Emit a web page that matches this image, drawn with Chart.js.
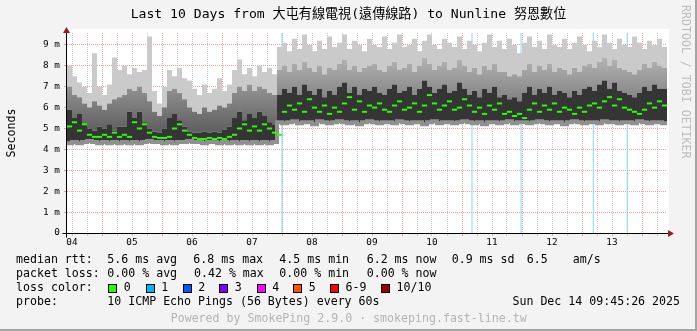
<!DOCTYPE html>
<html>
<head>
<meta charset="utf-8">
<title>SmokePing - Last 10 Days</title>
<script src="https://cdn.jsdelivr.net/npm/chart.js@4.4.1/dist/chart.umd.min.js"></script>
<style>
  body { margin: 0; background: #fff; }
  #wrap { position: relative; width: 697px; height: 331px; background: #f3f3f3; box-sizing: border-box;
          border-right: 2px solid #a4a4a4; border-bottom: 2px solid #a4a4a4; overflow: hidden; }
  #c { position: absolute; left: 0; top: 0; }
  .txt { position: absolute; font-family: "DejaVu Sans Mono", "Noto Sans CJK TC", monospace; font-size: 11.6px;
         line-height: 14px; white-space: pre; color: #000; }
  .box { position: absolute; width: 7px; height: 7px; border: 1px solid #000; }
</style>
</head>
<body>
<div id="wrap">
  <canvas id="c" width="697" height="331"></canvas>
  <div class="txt" style="left:0;width:697px;text-align:center;top:6px;font-size:13.1px;line-height:16px">Last 10 Days from 大屯有線電視(遠傳線路) to Nunline 努恩數位</div>
  <div class="txt" style="left:-39.5px;width:100px;text-align:center;top:125.5px;transform:rotate(-90deg)">Seconds</div>
  <div class="txt" style="left:610px;width:152px;text-align:left;top:74px;color:#bdbdbd;transform:rotate(90deg)">RRDTOOL / TOBI OETIKER</div>

  <div class="txt" style="left:16px;top:252.3px">median rtt:</div>
  <div class="txt" style="left:107.3px;top:252.3px">5.6 ms avg</div>
  <div class="txt" style="left:193.3px;top:252.3px">6.8 ms max</div>
  <div class="txt" style="left:279.3px;top:252.3px">4.5 ms min</div>
  <div class="txt" style="left:366.7px;top:252.3px">6.2 ms now</div>
  <div class="txt" style="left:451.7px;top:252.3px">0.9 ms sd</div>
  <div class="txt" style="left:526.7px;top:252.3px">6.5</div>
  <div class="txt" style="left:572.7px;top:252.3px">am/s</div>

  <div class="txt" style="left:16px;top:266.3px">packet loss:</div>
  <div class="txt" style="left:107.3px;top:266.3px">0.00 % avg</div>
  <div class="txt" style="left:194px;top:266.3px">0.42 % max</div>
  <div class="txt" style="left:279.3px;top:266.3px">0.00 % min</div>
  <div class="txt" style="left:366.7px;top:266.3px">0.00 % now</div>

  <div class="txt" style="left:16px;top:280px">loss color:</div>
  <div id="lossLegend"></div>

  <div class="txt" style="left:16px;top:294px">probe:</div>
  <div class="txt" style="left:107.3px;top:294px">10 ICMP Echo Pings (56 Bytes) every 60s</div>
  <div class="txt" style="right:15px;top:294px">Sun Dec 14 09:45:26 2025</div>

  <div class="txt" style="left:170.7px;top:310.7px;color:#b4b4b4">Powered by SmokePing 2.9.0 · smokeping.fast-line.tw</div>
</div>
<script>
// samples every 2 hours, hours counted from Dec 04 00:00
const startHour = 10;
const stepHours = 2;
const dayLabels = ['04', '05', '06', '07', '08', '09', '10', '11', '12', '13'];
const yTickLabels = ['0', '1 m', '2 m', '3 m', '4 m', '5 m', '6 m', '7 m', '8 m', '9 m'];

// median rtt (ms)
const median = [
  5.1, 5.3, 4.9, 5.2, 4.7, 4.6, 4.6, 4.7, 4.6, 4.8,
  4.6, 4.7, 4.6, 5.3, 5.0, 5.2, 4.8, 4.6, 4.55, 4.55,
  4.6, 5.0, 5.2, 4.9, 4.7, 4.55, 4.5, 4.5, 4.55, 4.5,
  4.55, 4.5, 4.6, 4.7, 5.0, 5.2, 4.9, 5.1, 4.9, 5.2,
  5.0, 4.8, 4.7,
  5.8, 6.1, 5.9, 6.2, 5.8, 6.4, 6.0, 5.8, 6.1, 5.7,
  6.0, 5.8, 6.2, 6.5, 5.9, 6.3, 5.8, 6.1, 6.0, 6.2,
  5.9, 5.8, 6.1, 6.3, 5.9, 6.0, 6.2, 5.8, 6.1, 6.6,
  6.2, 5.9, 6.1, 6.3, 5.9, 6.0, 6.4, 6.1, 5.8, 6.0,
  5.7, 6.1, 5.9, 6.2, 5.7, 5.8, 5.6, 5.7, 5.5, 5.9,
  6.2, 5.8, 6.1, 5.9, 6.2, 5.8, 6.0, 5.9, 5.7, 6.0,
  5.8, 6.1, 6.2, 6.0, 6.3, 6.5, 6.1, 6.4, 6.0, 5.9,
  5.8, 5.7, 5.9, 6.2, 6.0, 6.3, 6.1, 6.1
];

// smoke: lowest ping
const rttMin = [
  4.35, 4.3, 4.35, 4.3, 4.35, 4.4, 4.35, 4.3, 4.35, 4.3,
  4.35, 4.3, 4.35, 4.3, 4.35, 4.3, 4.35, 4.4, 4.35, 4.35,
  4.3, 4.35, 4.3, 4.35, 4.35, 4.4, 4.35, 4.35, 4.3, 4.35,
  4.35, 4.3, 4.35, 4.3, 4.35, 4.3, 4.35, 4.3, 4.35, 4.3,
  4.35, 4.3, 4.35,
  5.3, 5.25, 5.3, 5.35, 5.25, 5.3, 5.3, 5.2, 5.35, 5.3,
  5.25, 5.3, 5.35, 5.3, 5.25, 5.3, 5.2, 5.3, 5.35, 5.3,
  5.25, 5.3, 5.3, 5.25, 5.35, 5.3, 5.25, 5.3, 5.3, 5.2,
  5.3, 5.35, 5.25, 5.3, 5.3, 5.25, 5.3, 5.35, 5.3, 5.25,
  5.3, 5.2, 5.3, 5.3, 5.25, 5.3, 5.35, 5.25, 5.3, 5.3,
  5.25, 5.3, 5.35, 5.3, 5.25, 5.3, 5.3, 5.2, 5.3, 5.35,
  5.3, 5.25, 5.3, 5.3, 5.25, 5.35, 5.3, 5.3, 5.25, 5.3,
  5.3, 5.25, 5.35, 5.3, 5.25, 5.3, 5.3, 5.25
];

// smoke: top of the dark core
const rttCore = [
  5.7, 5.9, 5.5, 5.7, 5.2, 5.0, 4.9, 5.1, 5.0, 5.2,
  4.9, 5.1, 5.1, 5.8, 5.5, 5.8, 5.3, 5.0, 4.85, 4.8,
  5.0, 5.5, 5.7, 5.4, 5.1, 4.85, 4.8, 4.8, 4.85, 4.8,
  4.85, 4.8, 4.95, 5.1, 5.5, 5.8, 5.4, 5.7, 5.5, 5.8,
  5.6, 5.3, 5.2,
  6.6, 6.9, 6.7, 7.0, 6.6, 7.1, 6.8, 6.6, 6.9, 6.5,
  6.8, 6.6, 7.0, 7.2, 6.7, 7.0, 6.6, 6.9, 6.8, 7.0,
  6.7, 6.6, 6.9, 7.1, 6.7, 6.8, 7.0, 6.6, 6.9, 7.3,
  7.0, 6.7, 6.9, 7.1, 6.7, 6.8, 7.2, 6.9, 6.6, 6.8,
  6.5, 6.9, 6.7, 7.0, 6.5, 6.6, 6.4, 6.5, 6.3, 6.7,
  7.0, 6.6, 6.9, 6.7, 7.0, 6.6, 6.8, 6.7, 6.5, 6.8,
  6.6, 6.9, 7.0, 6.8, 7.1, 7.3, 6.9, 7.2, 6.8, 6.7,
  6.6, 6.5, 6.7, 7.0, 6.8, 7.1, 6.9, 6.9
];

// smoke: top of the mid grey
const rttMid = [
  6.8, 7.0, 6.6, 6.5, 6.2, 6.0, 6.3, 6.1, 5.9, 6.2,
  6.4, 6.5, 6.6, 6.9, 6.8, 7.0, 6.7, 6.3, 5.8, 5.6,
  6.0, 6.8, 6.9, 6.7, 6.4, 6.0, 5.8, 5.7, 6.0, 5.8,
  5.9, 6.1, 6.0, 6.2, 6.7, 7.0, 6.8, 7.1, 6.8, 7.0,
  6.9, 6.7, 6.6,
  7.8, 8.0, 7.7, 8.1, 7.8, 8.2, 7.9, 7.7, 8.0, 7.6,
  7.9, 7.8, 8.1, 8.3, 7.8, 8.0, 7.7, 7.9, 8.0, 8.1,
  7.8, 7.7, 8.0, 8.2, 7.8, 7.9, 8.1, 7.7, 8.0, 8.4,
  8.1, 7.8, 8.0, 8.2, 7.8, 7.9, 8.3, 8.0, 7.7, 7.9,
  7.6, 8.0, 7.8, 8.1, 7.7, 7.7, 7.5, 7.6, 7.5, 7.8,
  8.1, 7.7, 8.0, 7.8, 8.1, 7.7, 7.9, 7.8, 7.6, 7.9,
  7.7, 8.0, 8.1, 7.9, 8.2, 8.4, 8.0, 8.3, 7.9, 7.8,
  7.7, 7.6, 7.8, 8.1, 7.9, 8.2, 8.0, 7.9
];

// smoke: highest ping
const rttMax = [
  7.8, 8.0, 7.5, 7.2, 7.0, 6.7, 8.6, 7.0, 6.6, 7.1,
  8.4, 7.8, 8.0, 7.6, 7.9, 7.7, 7.8, 9.4, 6.8, 6.2,
  7.0, 7.8, 7.5, 7.9, 7.4, 7.3, 6.9, 6.6, 7.1, 6.7,
  6.9, 7.4, 6.8, 7.1, 7.8, 8.3, 7.6, 7.9, 7.5, 8.0,
  7.7, 7.9, 7.6,
  8.9, 9.1, 8.7, 9.3, 8.8, 9.5, 9.0, 8.7, 9.2, 8.8,
  9.4, 8.9, 9.1, 9.5, 8.8, 9.2, 9.0, 8.7, 9.3, 9.0,
  8.9, 9.4, 8.8, 9.1, 9.5, 8.9, 9.0, 9.3, 8.7, 9.2,
  9.5, 9.0, 8.8, 9.3, 9.1, 8.9, 9.4, 8.8, 9.2, 9.0,
  8.7, 9.1, 9.5, 8.9, 9.2, 8.8, 9.3, 9.0, 8.6, 9.1,
  9.4, 8.9, 9.2, 8.8, 9.5, 9.0, 8.9, 9.3, 8.8, 9.1,
  9.4, 9.0, 8.7, 9.2, 8.9, 9.5, 9.1, 8.8, 9.3, 9.0,
  8.9, 9.4, 9.1, 8.8, 9.2, 9.0, 9.3, 8.9
];

// hours with 1/10 packet loss
const lossTimes = [96.0, 172.0, 191.6, 220.5, 234.1];

const lossColors = ['#26ff00', '#00b8ff', '#0059ff', '#7e00ff', '#ff00ff', '#ff5500', '#ff0000', '#a10000'];
const lossNames = ['0', '1', '2', '3', '4', '5', '6-9', '10/10'];
const lossBoxX = [108.3, 145.7, 182.7, 219.3, 256.7, 293.3, 330, 381];

const legendEl = document.getElementById('lossLegend');
lossNames.forEach((name, i) => {
    const box = document.createElement('div');
    box.className = 'box';
    box.style.left = lossBoxX[i] + 'px';
    box.style.top = '283.5px';
    box.style.background = lossColors[i];
    legendEl.appendChild(box);
    const lbl = document.createElement('div');
    lbl.className = 'txt';
    lbl.style.left = (lossBoxX[i] + 15.5) + 'px';
    lbl.style.top = '280px';
    lbl.textContent = name;
    legendEl.appendChild(lbl);
});

const pts = arr => arr.map((v, i) => ({ x: startHour + i * stepHours, y: v }));
// median dash sits in the middle of its 2 hour slot
const midPts = arr => arr.map((v, i) => ({ x: startHour + (i + 0.5) * stepHours, y: v }));

const yMax = 9.57;
const lossPts = [];
lossTimes.forEach(t => {
    lossPts.push({ x: t, y: 0 }, { x: t, y: yMax }, { x: t, y: null });
});

const xTicks = [];
for (let h = 12; h <= 246; h += 6) xTicks.push(h);
const yTicks = [];
for (let v = 0; v <= 9.5; v += 0.5) yTicks.push(v);

const redGrid = 'rgba(214, 90, 90, 0.55)';
const greyGrid = 'rgba(150, 150, 150, 0.5)';
const tickFont = { family: 'DejaVu Sans Mono', size: 9.4 };

function midFill(context) {
    const chart = context.chart;
    if (!chart.chartArea) return '#8c8c8c';
    const y = chart.scales.y;
    const g = chart.ctx.createLinearGradient(0, y.getPixelForValue(5), 0, y.getPixelForValue(8.6));
    g.addColorStop(0, '#626262');
    g.addColorStop(1, '#b8b8b8');
    return g;
}

const axesPlugin = {
    id: 'axes',
    beforeDraw(chart) {
        const { ctx, chartArea: a } = chart;
        ctx.save();
        ctx.fillStyle = '#ffffff';
        ctx.fillRect(a.left, a.top - 4, a.right - a.left + 2, a.bottom - a.top + 4);
        ctx.restore();
    },
    afterDatasetsDraw(chart) {
        const { ctx, chartArea: a } = chart;
        const x0 = Math.round(a.left) - 0.5;
        const y0 = Math.round(a.bottom) + 0.5;
        ctx.save();
        ctx.strokeStyle = '#000';
        ctx.lineWidth = 1;
        ctx.beginPath();
        ctx.moveTo(x0 - 4, y0);
        ctx.lineTo(a.right + 3, y0);
        ctx.moveTo(x0, y0 + 4);
        ctx.lineTo(x0, a.top - 2);
        ctx.stroke();
        ctx.fillStyle = '#9b1c1c';
        ctx.beginPath();
        ctx.moveTo(a.right + 7, y0);
        ctx.lineTo(a.right + 1, y0 - 3.5);
        ctx.lineTo(a.right + 1, y0 + 3.5);
        ctx.closePath();
        ctx.fill();
        ctx.beginPath();
        ctx.moveTo(x0, a.top - 6);
        ctx.lineTo(x0 - 3.5, a.top);
        ctx.lineTo(x0 + 3.5, a.top);
        ctx.closePath();
        ctx.fill();
        ctx.restore();
    }
};

const noBorder = 'rgba(0,0,0,0)';
const band = (label, data, fill, color, order) => ({
    label: label, data: pts(data), fill: fill, backgroundColor: color,
    borderColor: noBorder, borderWidth: 0, stepped: 'after', pointRadius: 0, order: order
});

new Chart(document.getElementById('c'), {
    type: 'line',
    data: {
        datasets: [
            { label: 'median', data: midPts(median), showLine: false, pointStyle: 'line', pointRadius: 2.6,
              pointBorderWidth: 2, pointBorderColor: '#26ff00', pointBackgroundColor: '#26ff00',
              borderColor: '#26ff00', fill: false, order: 0 },
            { label: 'min', data: pts(rttMin), borderColor: '#909090', borderWidth: 4, stepped: 'after',
              pointRadius: 0, fill: false, order: 1 },
            band('core', rttCore, 1, '#353535', 2),
            band('mid', rttMid, 2, midFill, 3),
            band('max', rttMax, 3, '#cacaca', 4),
            { label: 'loss', data: lossPts, borderColor: '#86d6f6', borderWidth: 1, pointRadius: 0,
              fill: false, spanGaps: false, order: 5 }
        ]
    },
    options: {
        responsive: false,
        animation: false,
        events: [],
        layout: { padding: { left: 0, top: 33, right: 30, bottom: 78 } },
        plugins: { legend: { display: false }, tooltip: { enabled: false }, title: { display: false } },
        scales: {
            x: {
                type: 'linear', min: 10, max: 250,
                afterBuildTicks: s => { s.ticks = xTicks.map(v => ({ value: v })); },
                afterFit: s => { s.height = 20; },
                grid: { color: c => (c.tick && c.tick.value % 24 === 0) ? redGrid : greyGrid, tickLength: 3 },
                border: { display: false, dash: [1, 1] },
                ticks: {
                    autoSkip: false, maxRotation: 0, padding: 1, color: '#000', font: tickFont,
                    callback: v => v % 24 === 12 ? dayLabels[Math.floor(v / 24)] : ''
                }
            },
            y: {
                min: 0, max: yMax,
                afterBuildTicks: s => { s.ticks = yTicks.map(v => ({ value: v })); },
                afterFit: s => { s.width = 67; },
                grid: {
                    color: c => {
                        const v = c.tick ? c.tick.value : 0;
                        if (v === 0) return 'rgba(0,0,0,0)';
                        return Number.isInteger(v) ? redGrid : greyGrid;
                    },
                    tickLength: 3
                },
                border: { display: false, dash: [1, 1] },
                ticks: {
                    padding: 4, color: '#000', font: tickFont,
                    callback: v => Number.isInteger(v) ? yTickLabels[v] : ''
                }
            }
        }
    },
    plugins: [axesPlugin]
});
</script>
</body>
</html>
